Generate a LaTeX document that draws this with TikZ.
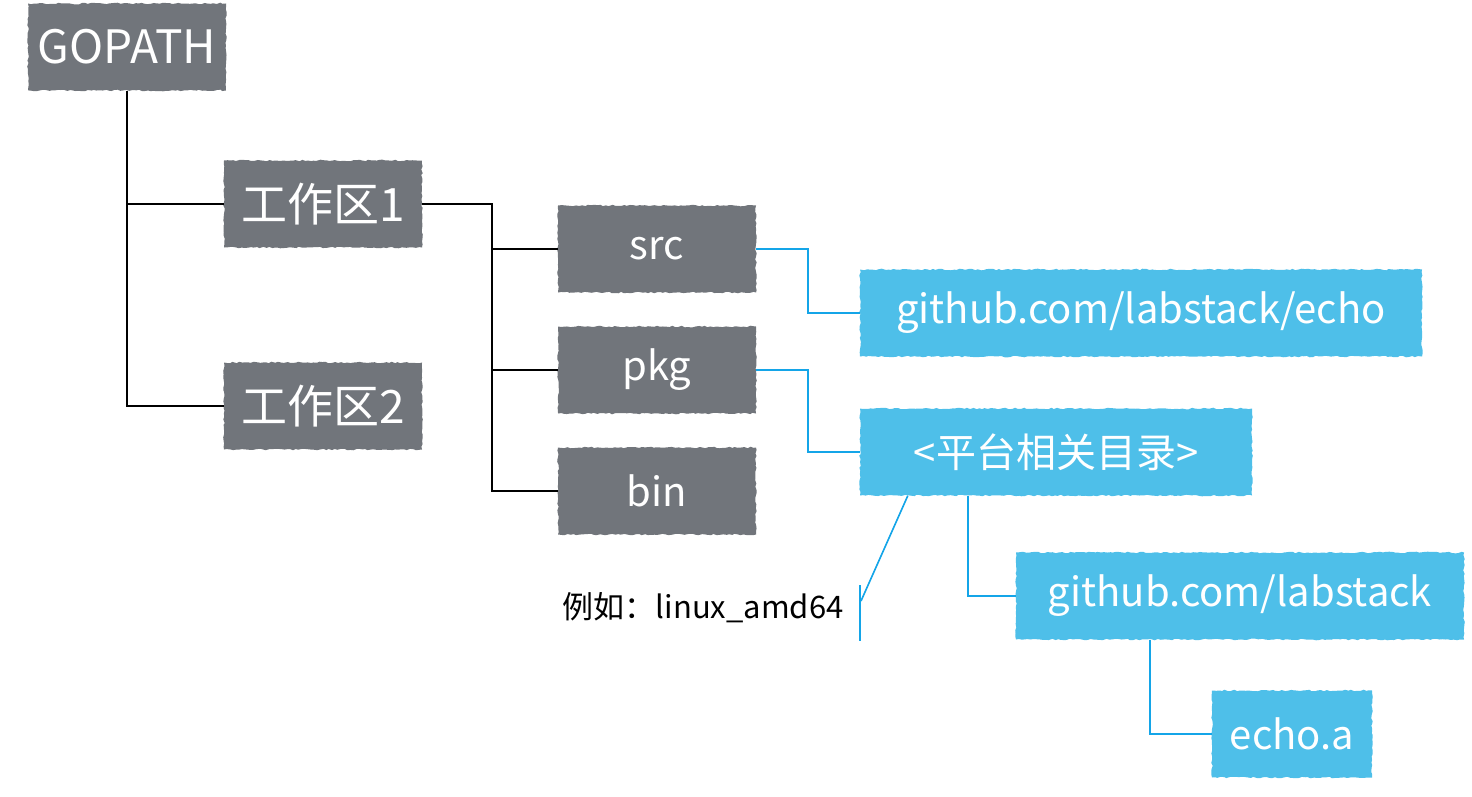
\documentclass[tikz,border=0pt]{standalone}
\usepackage{fontspec}
\usepackage{xcolor}
\usepackage{tikz}
\usetikzlibrary{positioning, calc, decorations.pathmorphing}
\newfontfamily\cjk{Noto Sans CJK SC}
\definecolor{boxgray}{RGB}{113, 117, 123}
\definecolor{boxblue}{RGB}{78, 191, 233}
\definecolor{linkblue}{RGB}{20, 165, 232}

\begin{document}
\begin{tikzpicture}[x=1pt, y=-1pt,
    dir/.style={fill=boxgray, text=white, inner sep=0pt, minimum width=198pt, minimum height=87pt,
        decorate, decoration={random steps, segment length=3pt, amplitude=0.8pt},
        font=\cjk\fontsize{40}{44}\selectfont},
    sub/.style={dir, fill=boxblue, minimum width=0pt},
    tree/.style={line width=1.8pt, black},
    link/.style={line width=1.6pt, linkblue}
]
\useasboundingbox (0,0) rectangle (1472,797);

\node[dir, font=\cjk\fontsize{46}{50}\selectfont] (gopath) at (127,47) {GOPATH};
\node[dir, font=\cjk\fontsize{46}{50}\selectfont] (ws1) at (323,204) {工作区1};
\node[dir, font=\cjk\fontsize{46}{50}\selectfont] (ws2) at (323,406) {工作区2};
\node[dir] (src) at (657,249) {src};
\node[dir] (pkg) at (657,370) {pkg};
\node[dir] (bin) at (657,491) {bin};
\node[sub, minimum width=562pt] (echo) at (1141,313) {github.com/labstack/echo};
\node[sub, minimum width=392pt] (plat) at (1056,452) {<平台相关目录>};
\node[sub, minimum width=448pt] (lab) at (1240,596) {github.com/labstack};
\node[sub, minimum width=160pt] (echoa) at (1292,734) {echo.a};
\node[font=\cjk\fontsize{31}{34}\selectfont, anchor=east] (note) at (847,608) {例如：linux\_amd64};

\coordinate (bartop) at (860,585);
\coordinate (barbot) at (860,641);
\coordinate (barmid) at (861,601);

\draw[tree] (gopath.south) |- (ws1.west);
\draw[tree] (gopath.south) |- (ws2.west);
\draw[tree] (ws1.east) -- ++(70,0) |- (src.west);
\draw[tree] (ws1.east) -- ++(70,0) |- (pkg.west);
\draw[tree] (ws1.east) -- ++(70,0) |- (bin.west);

\draw[link] (src.east) -- ++(52,0) |- (echo.west);
\draw[link] (pkg.east) -- ++(52,0) |- (plat.west);
\draw[link] ([xshift=108pt]plat.south west) |- (lab.west);
\draw[link] ([xshift=134pt]lab.south west) |- (echoa.west);
\draw[link] ([xshift=48pt]plat.south west) -- (barmid);
\draw[link] (bartop) -- (barbot);
\end{tikzpicture}
\end{document}
